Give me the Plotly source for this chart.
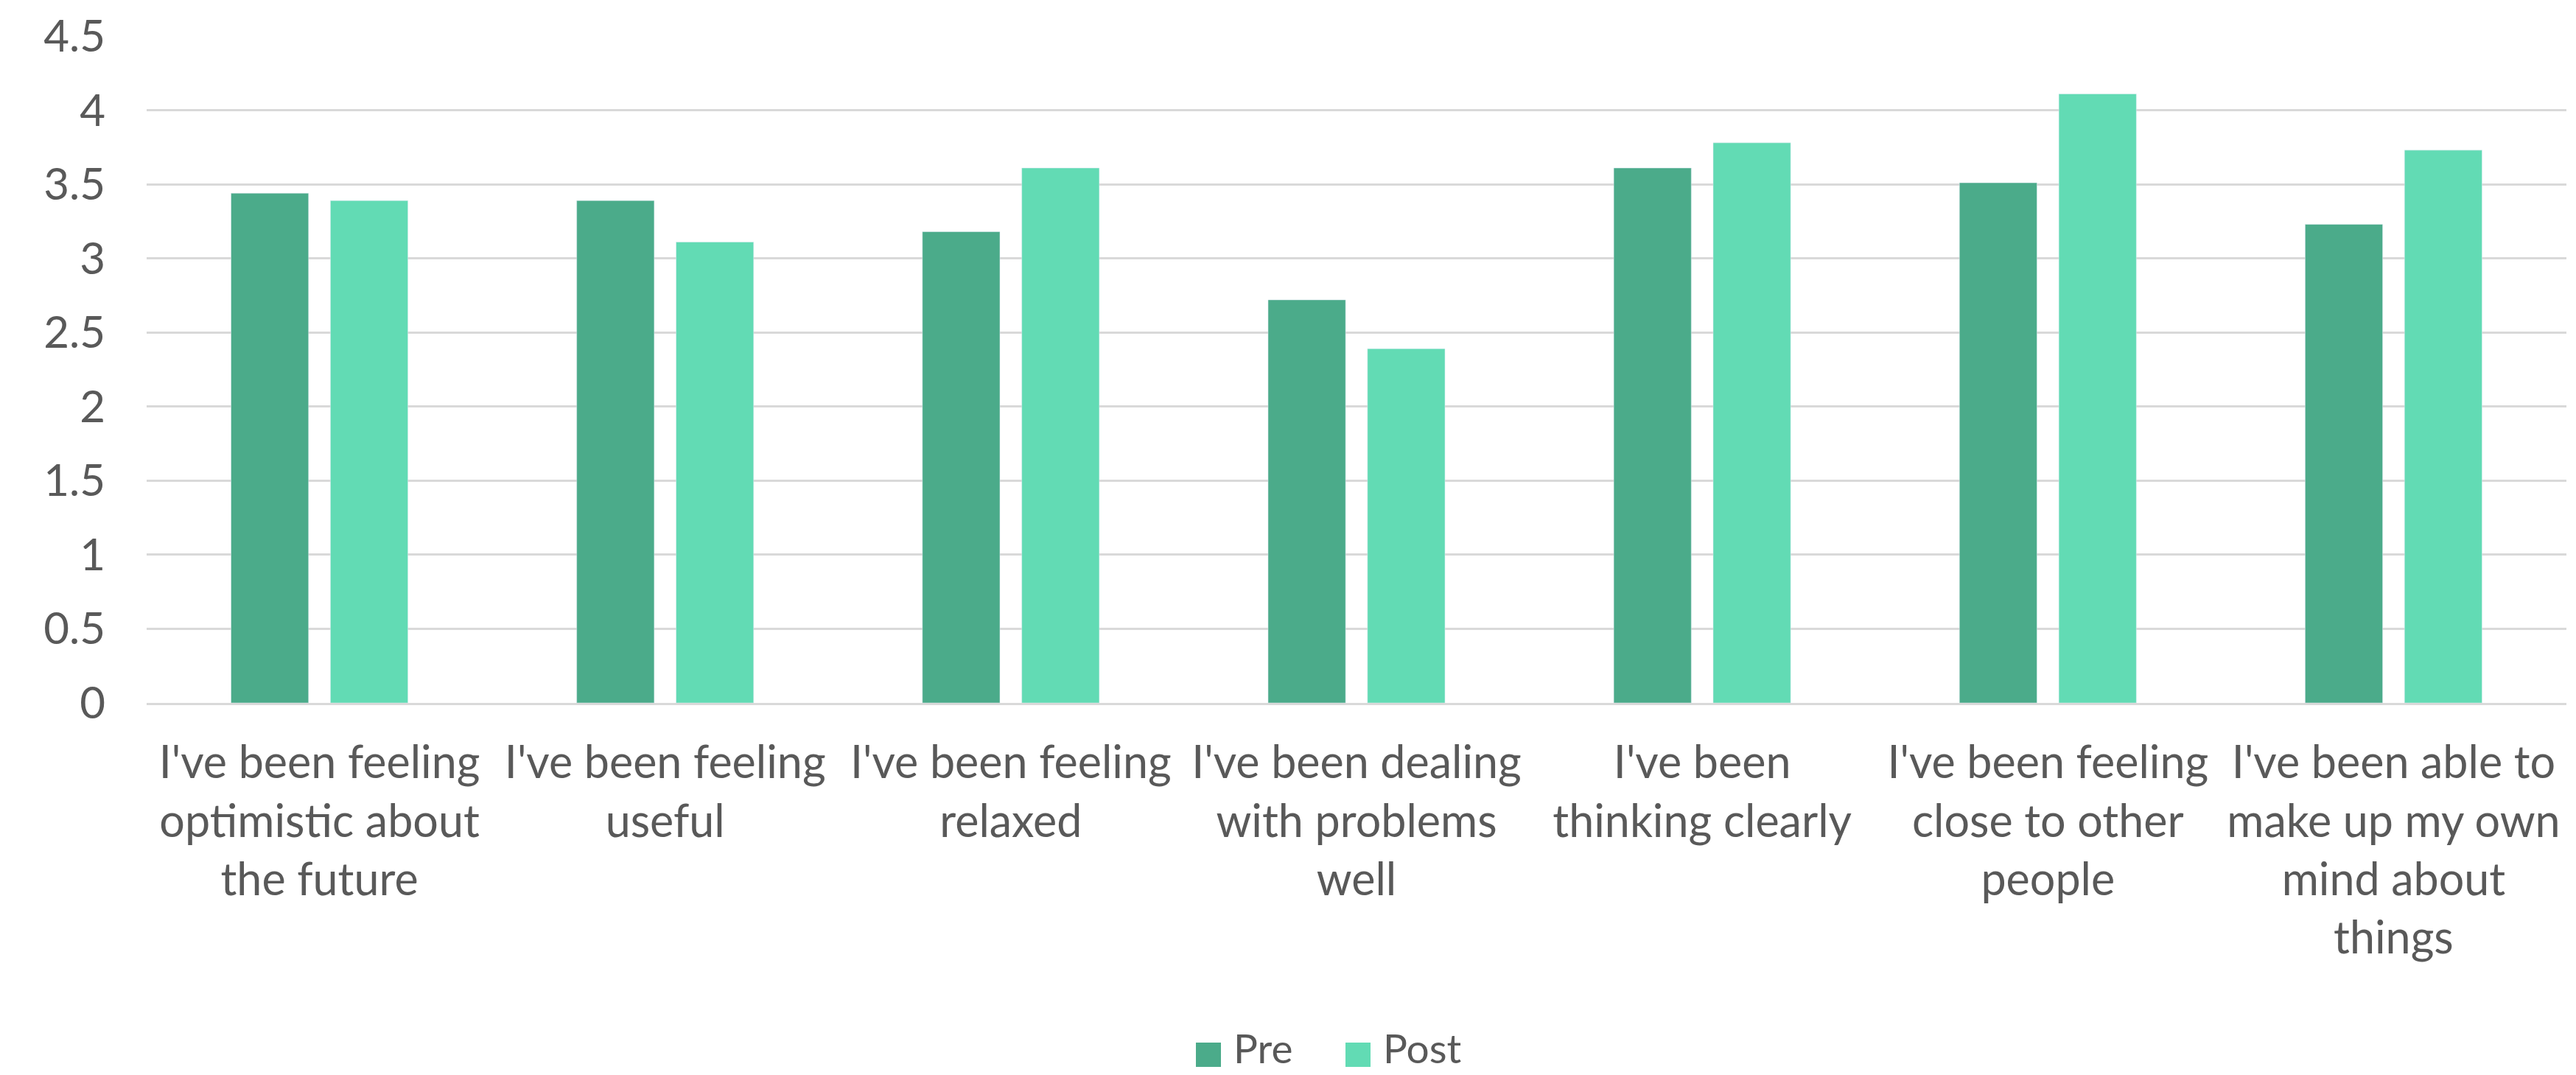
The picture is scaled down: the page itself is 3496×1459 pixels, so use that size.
"""Pre/post wellbeing scores as a grouped bar chart."""

from plotly import graph_objects as go


categories = [
    "I've been feeling<br>optimistic about<br>the future",
    "I've been feeling<br>useful",
    "I've been feeling<br>relaxed",
    "I've been dealing<br>with problems<br>well",
    "I've been<br>thinking clearly",
    "I've been feeling<br>close to other<br>people",
    "I've been able to<br>make up my own<br>mind about<br>things",
]
pre = [3.44, 3.39, 3.18, 2.72, 3.61, 3.51, 3.23]
post = [3.39, 3.11, 3.61, 2.39, 3.78, 4.11, 3.73]
y_ticks = [0, 0.5, 1, 1.5, 2, 2.5, 3, 3.5, 4, 4.5]
y_tick_text = ["0", "0.5", "1", "1.5", "2", "2.5", "3", "3.5", "4", "4.5"]
series_names = ["Pre", "Post"]
series_colors = ["#4bab8a", "#62dbb4"]

TEXT = "#595959"
GRID = "#d9d9d9"
FONT = "Lato"

fig = go.Figure()
for name, values, color in zip(series_names, [pre, post], series_colors):
    fig.add_trace(go.Bar(x=categories, y=values, name=name, marker_color=color))

# Excel-style legend: big square swatches under the plot, drawn by hand
# because plotly caps the size of legend symbols.
legend_x = [1424, 1627]  # swatch left edge, px from the plot's left edge
for x0, name, color in zip(legend_x, series_names, series_colors):
    fig.add_shape(
        type="rect",
        xref="paper",
        yref="paper",
        xsizemode="pixel",
        ysizemode="pixel",
        xanchor=0,
        yanchor=0,
        x0=x0,
        x1=x0 + 34,
        y0=-494,
        y1=-461,
        fillcolor=color,
        line_width=0,
    )
    fig.add_annotation(
        text=name,
        xref="paper",
        yref="paper",
        x=0,
        y=0,
        xanchor="left",
        yanchor="bottom",
        xshift=x0 + 49,
        yshift=-503,
        showarrow=False,
        font=dict(family=FONT, size=55, color=TEXT),
    )

# the page body has an 8px margin, so the figure is 8px smaller each way
fig.update_layout(
    width=3488,
    height=1451,
    margin=dict(l=191, r=13, t=41, b=505, autoexpand=False),
    paper_bgcolor="white",
    plot_bgcolor="white",
    barmode="group",
    bargap=0.425,
    bargroupgap=0.22,
    font=dict(family=FONT, color=TEXT, size=61),
    showlegend=False,
)
fig.update_xaxes(
    showgrid=False,
    showline=True,
    linecolor=GRID,
    linewidth=3,
    ticks="",
    tickangle=0,
    ticklabelstandoff=26,
    tickfont=dict(size=61),
)
fig.update_yaxes(
    range=[0, 4.5],
    tickvals=y_ticks,
    ticktext=y_tick_text,
    showgrid=True,
    gridcolor=GRID,
    gridwidth=3,
    zeroline=False,
    ticks="",
    ticklabelstandoff=55,
    tickfont=dict(size=60),
)

fig.write_html("out.html")
